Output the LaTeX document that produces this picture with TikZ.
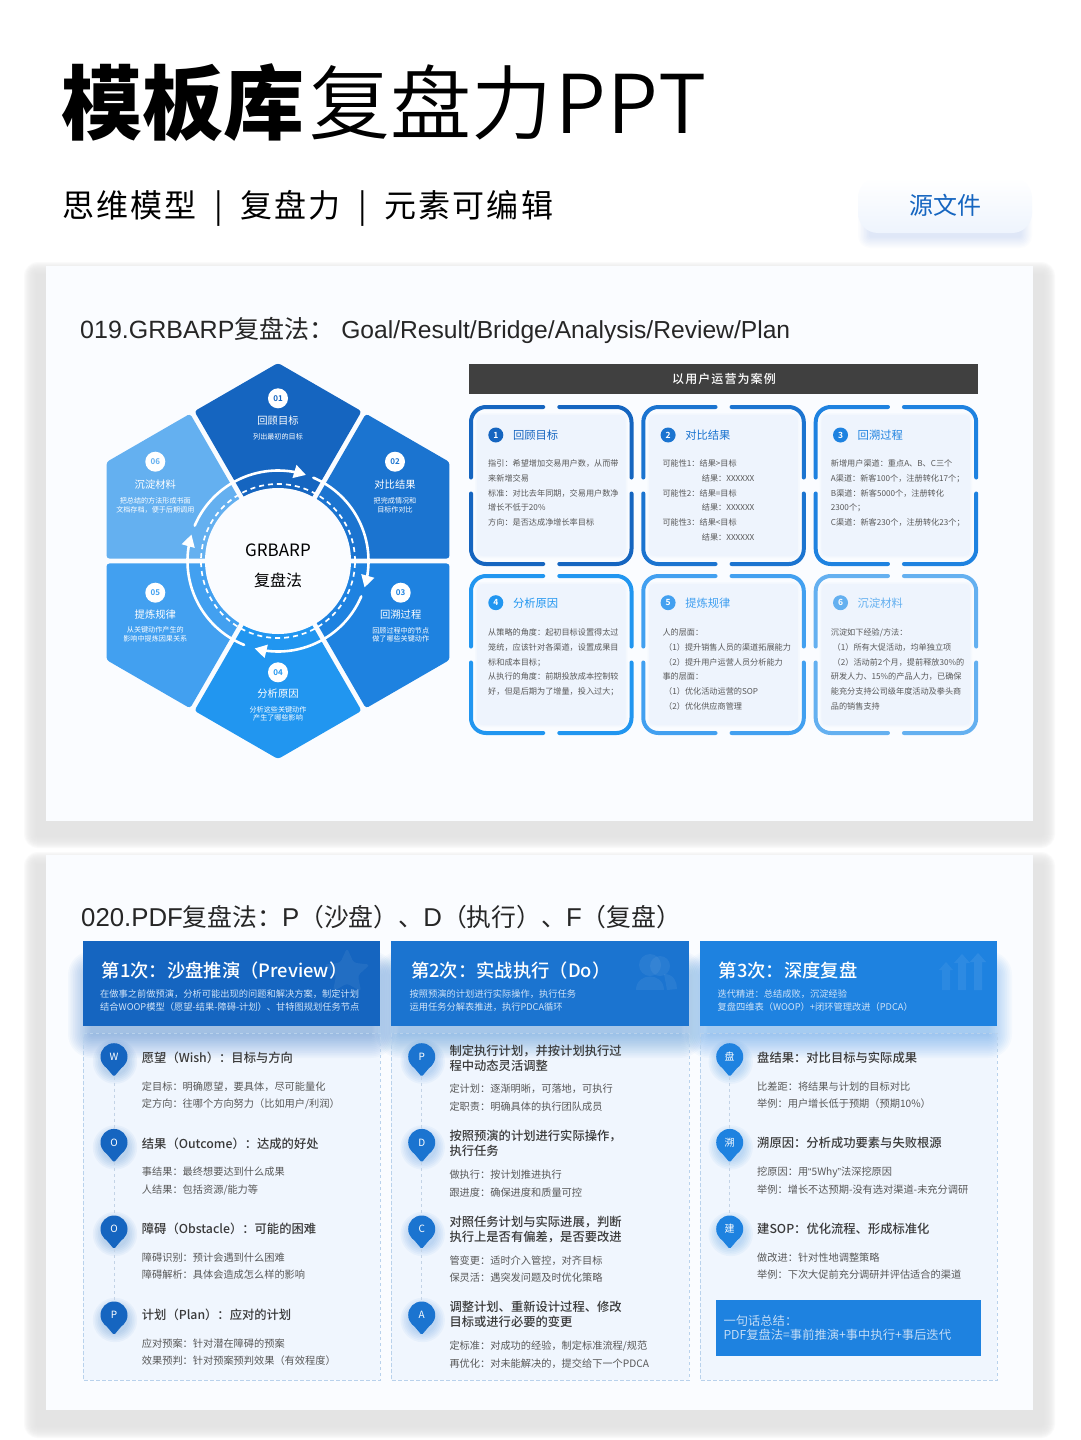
\documentclass[tikz,border=0pt]{standalone}
\usepackage{fontspec}
\setmainfont{Noto Sans CJK SC}[BoldFont=Noto Sans CJK SC Bold]
\newfontfamily\lat{Liberation Sans}
\newfontfamily\latb{Liberation Sans}[Scale=1.04]
\newfontfamily\latn{Liberation Sans}[Scale=0.985]
\newfontfamily\dem{Noto Sans CJK SC DemiLight}
\newfontfamily\med{Noto Sans CJK SC Medium}
\newfontfamily\blk{Noto Sans CJK SC Black}
\newfontfamily\spc{Noto Sans CJK SC}[LetterSpace=7]
\newfontfamily\spd{Noto Sans CJK SC Medium}[LetterSpace=9]
\newfontfamily\ppt{Noto Sans CJK SC DemiLight}[LetterSpace=2.5]
\usetikzlibrary{arrows.meta,shapes.geometric}
\definecolor{cA}{HTML}{1565C0}
\definecolor{cB}{HTML}{1B74D0}
\definecolor{cC}{HTML}{1E82E0}
\definecolor{cD}{HTML}{2196F0}
\definecolor{cE}{HTML}{42A0F0}
\definecolor{cF}{HTML}{64B0F0}
\definecolor{panelbg}{HTML}{FAFCFF}
\definecolor{colbg}{HTML}{F0F6FE}
\definecolor{cardbg}{HTML}{EEF4FD}
\definecolor{headtx}{HTML}{3A3A3A}
\definecolor{bodytx}{HTML}{585858}
\definecolor{subtx}{HTML}{CFE3F8}
\definecolor{dashc}{HTML}{B9D2EC}
\definecolor{connc}{HTML}{C3D3E6}
\definecolor{shad}{HTML}{E4E4E4}
\newcounter{tn}
\newcommand{\tl}[5]{\stepcounter{tn}\pgfmathsetmacro\tby{#2+0.38*#3}\node[name=t\arabic{tn},anchor=base west,inner sep=0pt,font=\fontsize{#3}{#3}\selectfont,text=#4] at (#1,\tby) {#5};}
\newcommand{\tc}[5]{\stepcounter{tn}\pgfmathsetmacro\tby{#2+0.38*#3}\node[name=t\arabic{tn},anchor=base,inner sep=0pt,font=\fontsize{#3}{#3}\selectfont,text=#4] at (#1,\tby) {#5};}
% x0 y0 x1 y1 spread colour opacity steps
\newcommand{\softbox}[8]{\foreach \i in {#8,...,1}{\pgfmathsetmacro\sa{#5*\i/#8}\fill[#6,fill opacity=#7,rounded corners=\sa pt] (#1-\sa,#2-\sa) rectangle (#3+\sa,#4+\sa);}}
% name x y colour label
\newcommand{\pin}[5]{\foreach \i in {1,...,6}{\fill[#4,fill opacity=.045] (#2+1,#3+5) circle [radius={(12+\i*1.7)*1pt}];}
\fill[#4,rounded corners=1.5pt] (#2-12.4,#3+5.4) -- (#2,#3+20) -- (#2+12.4,#3+5.4) -- cycle;
\node[name=#1,circle,fill=#4,minimum size=27pt,inner sep=0pt,text=white,font=\fontsize{10}{10}\selectfont] at (#2,#3) {#5};
\coordinate (#1tip) at (#2,#3+20);}
% x0 y0 colour number title circley
\newcommand{\card}[6]{\pgfmathsetmacro\cxr{#1+164.5}\pgfmathsetmacro\cyb{#2+161}\pgfmathsetmacro\cmx{#1+82.25}\pgfmathsetmacro\cmy{#2+80.5}
\softbox{#1+10}{#2+12}{#1+154.5}{#2+149}{4}{cardbg}{.35}{3}
\fill[cardbg,rounded corners=7pt] (#1+8,#2+10) rectangle (#1+156.5,#2+151);
\draw[#3,line width=4pt,line cap=round,rounded corners=15pt] (#1+2,\cmy-8) -- (#1+2,#2+2) -- (\cmx-8,#2+2);
\draw[#3,line width=4pt,line cap=round,rounded corners=15pt] (\cmx+8,#2+2) -- (\cxr-2,#2+2) -- (\cxr-2,\cmy-8);
\draw[#3,line width=4pt,line cap=round,rounded corners=15pt] (\cxr-2,\cmy+8) -- (\cxr-2,\cyb-2) -- (\cmx+8,\cyb-2);
\draw[#3,line width=4pt,line cap=round,rounded corners=15pt] (\cmx-8,\cyb-2) -- (#1+2,\cyb-2) -- (#1+2,\cmy+8);
\node[name=cn#4,circle,fill=#3,minimum size=15pt,inner sep=0pt,text=white,font=\fontsize{8.5}{8.5}\selectfont\bfseries] at (#1+26.8,#6) {#4};
\tl{#1+43.8}{#6}{11.3}{#3}{#5}}
\newcommand{\bd}[3]{\tl{#1}{#2}{8.15}{bodytx}{#3}}
\newcommand{\ph}[3]{\tl{#1}{#2}{12.3}{headtx}{\med #3}}
\newcommand{\pb}[3]{\tl{#1}{#2}{10.2}{bodytx}{#3}}
\newcommand{\carc}[2]{\draw[white,line width=2.6pt,line cap=round,-{Triangle[length=12pt,width=13pt]}] plot[domain=#1:#2,samples=40] ({278+90.5*cos(\x)},{561-90.5*sin(\x)});}
\newcommand{\hexnum}[4]{\node[name=hn#3,circle,fill=white,minimum size=20pt,inner sep=0pt,text=#4,font=\fontsize{8}{8}\selectfont\bfseries] at (#1,#2) {#3};}
\begin{document}
\begin{tikzpicture}[x=1pt,y=-1pt]
\useasboundingbox (0,0) rectangle (1080,1440);
\fill[white] (0,0) rectangle (1080,1440);
% heading
\tl{61}{103}{81}{black}{\blk 模板库}
\tl{309}{103}{81}{black}{\dem 复盘力}
\tl{555}{103}{81}{black}{\ppt PPT}
\tl{62}{205}{32}{black}{\spc 思维模型\hspace{8pt} | \hspace{8pt}复盘力\hspace{8pt} | \hspace{8pt}元素可编辑}
\softbox{870}{210}{1020}{236}{12}{cA}{.015}{8}
\shade[top color=white,bottom color=cardbg,rounded corners=20pt] (858,178) rectangle (1032,233);
\tc{945}{205}{24}{cA}{源文件}
% panels
\softbox{38}{276}{1041}{834}{14}{shad}{.15}{14}
\fill[shad] (38,276) rectangle (1041,834);
\softbox{38}{866}{1041}{1424}{14}{shad}{.15}{14}
\fill[shad] (38,866) rectangle (1041,1424);
\fill[panelbg] (46,266) rectangle (1033,821);
\fill[panelbg] (46,855) rectangle (1033,1410);
\tl{80}{329}{25}{black!85}{{\lat 019.GRBARP}复盘法：{\latn\ Goal/Result/Bridge/Analysis/Review/Plan}}
\tl{81}{917}{24.8}{black!85}{{\latb 020.PDF}复盘法：{\latb P}（沙盘）、{\latb D}（执行）、{\latb F}（复盘）}
% hexagon
\foreach \k/\c in {0/cA,1/cB,2/cC,3/cD,4/cE,5/cF}{
\begin{scope}[shift={(278,561)},rotate=-60*\k]
\fill[\c,rounded corners=3pt] (0,-5) -- (83.6,-149.75) -- (0,-198) -- (-83.6,-149.75) -- cycle;
\end{scope}}
\fill[panelbg] (278,561) circle [radius=73pt];
\draw[white,line width=1.7pt,dash pattern=on 5pt off 4pt] (278,561) circle [radius=77pt];
\carc{157}{72}
\carc{67}{-17}
\carc{-23}{-105}
\carc{-112}{-197}
\tc{278}{550}{17}{black}{GRBARP}
\tc{278}{580.7}{16}{black}{复盘法}
\hexnum{278}{398.3}{01}{cA}
\tc{278}{420.7}{10.3}{white}{回顾目标}
\tc{278}{436.7}{7.1}{white}{列出最初的目标}
\hexnum{395}{461.7}{02}{cB}
\tc{395}{485}{10.3}{white}{对比结果}
\tc{395}{500.7}{7.1}{white}{把完成情况和}
\tc{395}{509.3}{7.1}{white}{目标作对比}
\hexnum{400.7}{592.7}{03}{cC}
\tc{400.7}{614.3}{10.3}{white}{回溯过程}
\tc{400.7}{630.3}{7.1}{white}{回顾过程中的节点}
\tc{400.7}{639}{7.1}{white}{做了哪些关键动作}
\hexnum{278}{672.3}{04}{cD}
\tc{278}{693.3}{10.3}{white}{分析原因}
\tc{278}{709.7}{7.1}{white}{分析这些关键动作}
\tc{278}{718}{7.1}{white}{产生了哪些影响}
\hexnum{155.3}{592.7}{05}{cE}
\tc{155.3}{614.3}{10.3}{white}{提炼规律}
\tc{155.3}{630}{7.1}{white}{从关键动作产生的}
\tc{155.3}{638.7}{7.1}{white}{影响中提炼因果关系}
\hexnum{155.3}{461.7}{06}{cF}
\tc{155.3}{485}{10.3}{white}{沉淀材料}
\tc{155.3}{500.7}{7.1}{white}{把总结的方法形成书面}
\tc{155.3}{509.3}{7.1}{white}{文档存档，便于后期调用}
% right side
\fill[black!75] (469,364) rectangle (978,394);
\tc{724}{379}{12}{white}{\spd 以用户运营为案例}
\card{469}{405}{cA}{1}{回顾目标}{435}
\bd{488}{463.3}{指引：希望增加交易用户数，从而带}
\bd{488}{478.2}{来新增交易}
\bd{488}{493}{标准：对比去年同期，交易用户数净}
\bd{488}{507.8}{增长不低于20\%}
\bd{488}{522.6}{方向：是否达成净增长率目标}
\card{641.3}{405}{cB}{2}{对比结果}{435}
\bd{662.3}{463.3}{可能性1：结果>目标}
\bd{701.7}{478.2}{结果：XXXXXX}
\bd{662.3}{493}{可能性2：结果=目标}
\bd{701.7}{507.8}{结果：XXXXXX}
\bd{662.3}{522.6}{可能性3：结果<目标}
\bd{701.7}{537.5}{结果：XXXXXX}
\card{813.7}{405}{cC}{3}{回溯过程}{435}
\bd{830.7}{463.3}{新增用户渠道：重点A、B、C三个}
\bd{830.7}{478.2}{A渠道：新客100个，注册转化17个；}
\bd{830.7}{493}{B渠道：新客5000个，注册转化}
\bd{830.7}{507.8}{2300个；}
\bd{830.7}{522.6}{C渠道：新客230个，注册转化23个；}
\card{469}{574}{cD}{4}{分析原因}{602.7}
\bd{488}{632.3}{从策略的角度：起初目标设置得太过}
\bd{488}{647.1}{笼统，应该针对各渠道，设置成果目}
\bd{488}{661.9}{标和成本目标；}
\bd{488}{676.7}{从执行的角度：前期投放成本控制较}
\bd{488}{691.5}{好，但是后期为了增量，投入过大；}
\card{641.3}{574}{cE}{5}{提炼规律}{602.7}
\bd{662.3}{632.3}{人的层面：}
\bd{664}{647.1}{（1）提升销售人员的渠道拓展能力}
\bd{664}{661.9}{（2）提升用户运营人员分析能力}
\bd{662.3}{676.7}{事的层面：}
\bd{664}{691.5}{（1）优化活动运营的SOP}
\bd{664}{706.3}{（2）优化供应商管理}
\card{813.7}{574}{cF}{6}{沉淀材料}{602.7}
\bd{830.7}{632.3}{沉淀如下经验/方法：}
\bd{832.5}{647.1}{（1）所有大促活动，均单独立项}
\bd{832.5}{661.9}{（2）活动前2个月，提前释放30\%的}
\bd{830.7}{676.7}{研发人力、15\%的产品人力，已确保}
\bd{830.7}{691.5}{能充分支持公司级年度活动及拳头商}
\bd{830.7}{706.3}{品的销售支持}
% columns
\fill[colbg] (83,1033) rectangle (380,1380);
\fill[colbg] (391,1033) rectangle (689,1380);
\fill[colbg] (700,1033) rectangle (997,1380);
\softbox{92}{975}{371}{1034}{24}{cA}{.03}{14}
\softbox{400}{975}{680}{1034}{24}{cB}{.03}{14}
\softbox{709}{975}{988}{1034}{24}{cC}{.03}{14}
\draw[dashc,line width=.8pt,dash pattern=on 3.5pt off 2.5pt] (83,1033) rectangle (380,1380);
\draw[dashc,line width=.8pt,dash pattern=on 3.5pt off 2.5pt] (391,1033) rectangle (689,1380);
\draw[dashc,line width=.8pt,dash pattern=on 3.5pt off 2.5pt] (700,1033) rectangle (997,1380);
\fill[cA] (83,941) rectangle (380,1026);
\fill[cB] (391,941) rectangle (689,1026);
\fill[cC] (700,941) rectangle (997,1026);
% watermarks
\node[name=wstar,star,star points=5,star point ratio=2.1,fill=white,fill opacity=.06,minimum size=48pt,inner sep=0pt,rounded corners=3pt] at (347,972) {};
\fill[white,fill opacity=.06] (660,966) circle [radius=10pt];
\fill[white,fill opacity=.06] (650,965) circle [radius=11pt];
\fill[white,fill opacity=.06] (636,990) .. controls (636,972) and (664,972) .. (664,990) -- cycle;
\fill[white,fill opacity=.06] (664,974) .. controls (674,974) and (677,982) .. (677,989) -- (667,990) -- cycle;
\fill[white,fill opacity=.06] (939,970) -- (946,962) -- (953,970) -- (950,970) -- (950,990) -- (942,990) -- (942,970) -- cycle;
\fill[white,fill opacity=.07] (954,963) -- (962,954) -- (970,963) -- (966,963) -- (966,990) -- (958,990) -- (958,963) -- cycle;
\fill[white,fill opacity=.08] (970,962) -- (978,953) -- (986,962) -- (982,962) -- (982,990) -- (974,990) -- (974,962) -- cycle;
\tl{101.7}{971}{18.3}{white}{\med 第1次：沙盘推演（Preview）}
\tl{100}{993.7}{9.25}{subtx}{在做事之前做预演，分析可能出现的问题和解决方案，制定计划}
\tl{100}{1007}{9.25}{subtx}{结合WOOP模型（愿望-结果-障碍-计划）、甘特图规划任务节点}
\tl{411}{971}{18.3}{white}{\med 第2次：实战执行（Do）}
\tl{409.3}{993.7}{9.25}{subtx}{按照预演的计划进行实际操作，执行任务}
\tl{409.3}{1007}{9.25}{subtx}{运用任务分解表推进，执行PDCA循环}
\tl{718.7}{971}{18.3}{white}{\med 第3次：深度复盘}
\tl{717.3}{993.7}{9.25}{subtx}{迭代精进：总结成败，沉淀经验}
\tl{717.3}{1007}{9.25}{subtx}{复盘四维表（WOOP）+闭环管理改进（PDCA）}
% column 1
\pin{pa}{114}{1056.7}{cA}{W}
\pin{pb}{114}{1142.4}{cA}{O}
\pin{pc}{114}{1229}{cA}{O}
\pin{pd}{114}{1315}{cA}{P}
\draw[connc,line width=.7pt,dashed] (patip) -- (pb);
\draw[connc,line width=.7pt,dashed] (pbtip) -- (pc);
\draw[connc,line width=.7pt,dashed] (pctip) -- (pd);
\ph{141.7}{1058}{愿望（Wish）：目标与方向}
\pb{141.7}{1086.7}{定目标：明确愿望，要具体，尽可能量化}
\pb{141.7}{1104}{定方向：往哪个方向努力（比如用户/利润）}
\ph{141.7}{1143.5}{结果（Outcome）：达成的好处}
\pb{141.7}{1171.7}{事结果：最终想要达到什么成果}
\pb{141.7}{1189.3}{人结果：包括资源/能力等}
\ph{141.7}{1229}{障碍（Obstacle）：可能的困难}
\pb{141.7}{1257.7}{障碍识别：预计会遇到什么困难}
\pb{141.7}{1275}{障碍解析：具体会造成怎么样的影响}
\ph{141.7}{1315}{计划（Plan）：应对的计划}
\pb{141.7}{1343.3}{应对预案：针对潜在障碍的预案}
\pb{141.7}{1360.7}{效果预判：针对预案预判效果（有效程度）}
% column 2
\pin{qa}{421.7}{1056.7}{cB}{P}
\pin{qb}{421.7}{1142.4}{cB}{D}
\pin{qc}{421.7}{1229}{cB}{C}
\pin{qd}{421.7}{1315}{cB}{A}
\draw[connc,line width=.7pt,dashed] (qatip) -- (qb);
\draw[connc,line width=.7pt,dashed] (qbtip) -- (qc);
\draw[connc,line width=.7pt,dashed] (qctip) -- (qd);
\ph{449.3}{1050.7}{制定执行计划，并按计划执行过}
\ph{449.3}{1066}{程中动态灵活调整}
\pb{449.3}{1089}{定计划：逐渐明晰，可落地，可执行}
\pb{449.3}{1106.7}{定职责：明确具体的执行团队成员}
\ph{449.3}{1136.3}{按照预演的计划进行实际操作，}
\ph{449.3}{1151.3}{执行任务}
\pb{449.3}{1174.7}{做执行：按计划推进执行}
\pb{449.3}{1192.3}{跟进度：确保进度和质量可控}
\ph{449.3}{1221.7}{对照任务计划与实际进展，判断}
\ph{449.3}{1237}{执行上是否有偏差，是否要改进}
\pb{449.3}{1260.3}{管变更：适时介入管控，对齐目标}
\pb{449.3}{1277.7}{保灵活：遇突发问题及时优化策略}
\ph{449.3}{1306.7}{调整计划、重新设计过程、修改}
\ph{449.3}{1322.3}{目标或进行必要的变更}
\pb{449.3}{1346}{定标准：对成功的经验，制定标准流程/规范}
\pb{449.3}{1363.3}{再优化：对未能解决的，提交给下一个PDCA}
% column 3
\pin{ra}{729.7}{1056.7}{cC}{盘}
\pin{rb}{729.7}{1142.4}{cC}{溯}
\pin{rc}{729.7}{1229}{cC}{建}
\draw[connc,line width=.7pt,dashed] (ratip) -- (rb);
\draw[connc,line width=.7pt,dashed] (rbtip) -- (rc);
\ph{757}{1057.5}{盘结果：对比目标与实际成果}
\pb{757}{1086.7}{比差距：将结果与计划的目标对比}
\pb{757}{1104}{举例：用户增长低于预期（预期10\%）}
\ph{757}{1143}{溯原因：分析成功要素与失败根源}
\pb{757}{1172}{挖原因：用{\lat “}5Why{\lat ”}法深挖原因}
\pb{757}{1189.5}{举例：增长不达预期-没有选对渠道-未充分调研}
\ph{757}{1229}{建SOP：优化流程、形成标准化}
\pb{757}{1257.7}{做改进：针对性地调整策略}
\pb{757}{1275}{举例：下次大促前充分调研并评估适合的渠道}
\fill[cC] (716.3,1300) rectangle (980.7,1356);
\tl{723.3}{1320.7}{12.3}{subtx}{\dem 一句话总结：}
\tl{723.3}{1335}{12.3}{subtx}{\dem PDF复盘法=事前推演+事中执行+事后迭代}
\end{tikzpicture}
\end{document}
